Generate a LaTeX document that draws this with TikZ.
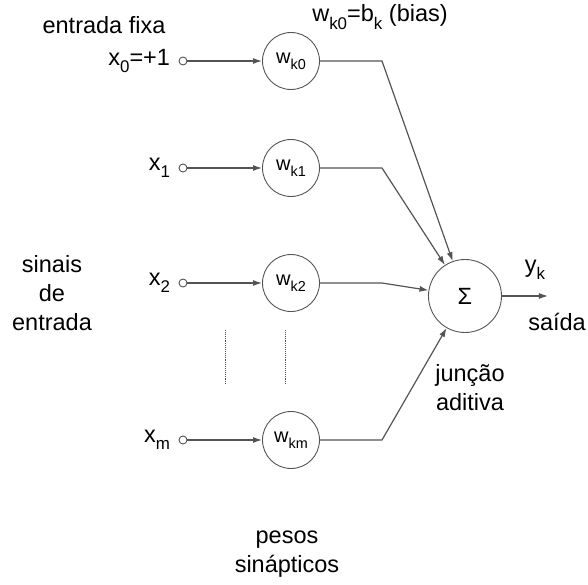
\documentclass[tikz,border=0pt]{standalone}
\usepackage{fontspec}
\setmainfont{Liberation Sans}
\usetikzlibrary{arrows.meta,positioning}
\definecolor{wire}{gray}{0.33}
\newcommand{\lowsub}[1]{\raisebox{-0.6ex}{\scalebox{0.72}{#1}}}
\tikzset{
  term/.style={
    shape = circle,
    draw = wire,
    line width = 0.9pt,
    inner sep = 0pt,
    minimum size = 8pt
  },
  weight/.style={
    shape = circle,
    draw = wire,
    line width = 0.9pt,
    inner sep = 0pt,
    minimum size = 57pt,
    font = \fontsize{20}{22}\selectfont
  },
  junction/.style={
    shape = circle,
    draw = wire,
    line width = 0.9pt,
    inner sep = 0pt,
    minimum size = 73pt
  },
}
\tikzset{
  link/.style={
    draw = wire,
    line width = 1.2pt,
    -{Latex[length=9pt,width=6pt]}
  },
  dots/.style={
    draw = wire,
    line width = 0.9pt,
    densely dotted
  },
  every picture/.style = {
    font=\fontsize{23.5}{29}\selectfont
  },
  every label/.style = {
    label distance=5pt
  },
}
\begin{document}
\begin{tikzpicture}[x=1pt,y=-1pt]
  \useasboundingbox (0,0) rectangle (588,584);
  \node[junction] (sig) at (465,296) {Σ};
  \foreach \i/\y/\lab in {0/61/x\lowsub{0}=+1, 1/168/x\lowsub{1}, 2/283/x\lowsub{2}, m/440/x\lowsub{m}}{
    \node[term,label=left:{\lab}] (in\i) at (183,\y) {};
    \node[weight] (w\i) at (291,\y) {w\lowsub{k\i}};
    \draw[link] (in\i) -- (w\i);
    \draw[link] (w\i.east) -- (382,\y) -- (sig);
  }
  \draw[link] (sig.east) -- ++(46,0) coordinate (out);
  \draw[dots] (225,330) -- (225,385);
  \draw[dots] (285,330) -- (285,385);
  \node (fix) at (104,25) {entrada fixa};
  \node (bias) at (380,17) {w\lowsub{k0}=b\lowsub{k} (bias)};
  \node[align=center] (sinais) at (52,293) {sinais\\de\\entrada};
  \node (yk) at (535,270) {y\lowsub{k}};
  \node (saida) at (557,322) {saída};
  \node[align=center] (juncao) at (470,388) {junção\\aditiva};
  \node[align=center] (pesos) at (287,554) {pesos\\sinápticos};
\end{tikzpicture}
\end{document}
